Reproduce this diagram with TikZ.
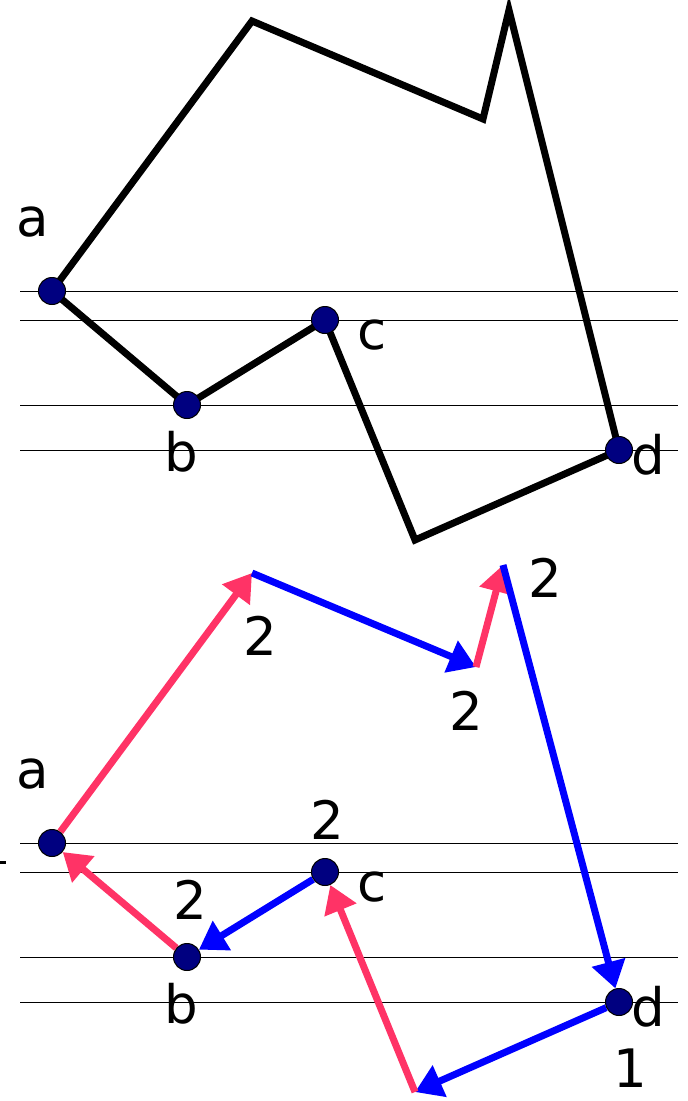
\documentclass[tikz,border=0pt]{standalone}
\usepackage{fontspec}
\setmainfont{DejaVu Sans}
\usetikzlibrary{arrows.meta,backgrounds}
\definecolor{pt-fill}{HTML}{000080}
\definecolor{up-red}{HTML}{FF3366}
\definecolor{down-blue}{HTML}{0000FF}

\begin{document}
\begin{tikzpicture}[x=1pt, y=-1pt,
    pt/.style={circle, draw=black, line width=1pt, fill=pt-fill, minimum size=27pt, inner sep=0pt},
    lbl/.style={font=\fontsize{53}{60}\selectfont, inner sep=0pt},
    guide/.style={black, line width=1pt},
    edge/.style={black, line width=7pt},
    up/.style={up-red, line width=7pt, -{Triangle[length=27pt, width=33pt]}},
    down/.style={down-blue, line width=7pt, -{Triangle[length=27pt, width=33pt]}}]
    \useasboundingbox (0,0) rectangle (688,1101);

    % --- Top panel: the polygon ---
    \begin{scope}
        \node[pt] (ta) at (52,291) {};
        \node[pt] (tb) at (187,405) {};
        \node[pt] (tc) at (325,320) {};
        \node[pt] (td) at (619,450) {};
        \coordinate (t1) at (252,21);
        \coordinate (t2) at (483,119);
        \coordinate (t3) at (509,10);
        \coordinate (t5) at (415,540);
        \node[lbl] (la) at (33,222) {a};
        \node[lbl] (lb) at (181,452) {b};
        \node[lbl] (lc) at (372,335) {c};
        \node[lbl] (ld) at (648,455) {d};
        \begin{pgfonlayer}{background}
            \foreach \n in {ta,tc,tb,td}
                \draw[guide] (20,0 |- \n) -- (678,0 |- \n);
            \draw[edge] (ta.center) -- (t1) -- (t2) -- (t3) -- (td.center) -- (t5)
                -- (tc.center) -- (tb.center) -- cycle;
        \end{pgfonlayer}
    \end{scope}

    % --- Bottom panel: edges marked up / down ---
    \begin{scope}[shift={(0,552)}]
        \node[pt] (ba) at (52,291) {};
        \node[pt] (bb) at (187,405) {};
        \node[pt] (bc) at (325,320) {};
        \node[pt] (bd) at (619,450) {};
        \coordinate (b1) at (252,21);
        \coordinate (b2) at (476,115);
        \coordinate (b3) at (503,13);
        \coordinate (b5) at (415,540);
        \node[lbl] (ma) at (33,222) {a};
        \node[lbl] (mb) at (181,452) {b};
        \node[lbl] (mc) at (372,335) {c};
        \node[lbl] (md) at (648,455) {d};
        \node[lbl] (n1) at (260,84) {2};
        \node[lbl] (n2) at (466,159) {2};
        \node[lbl] (n3) at (545,26) {2};
        \node[lbl] (n4) at (327,268) {2};
        \node[lbl] (n5) at (190,348) {2};
        \node[lbl] (n6) at (630,516) {1};
        \begin{pgfonlayer}{background}
            \foreach \n in {ba,bc,bb,bd}
                \draw[guide] (20,0 |- \n) -- (678,0 |- \n);
            \draw[line width=3pt] (0,310) -- (6,310);
            \draw[up] (ba) -- (b1);
            \draw[down] (b1) -- (b2);
            \draw[up] (b2) -- (b3);
            \draw[down] (b3) -- (bd);
            \draw[down] (bd) -- (b5);
            \draw[up] (b5) -- (bc);
            \draw[down] (bc) -- (bb);
            \draw[up] (bb) -- (ba);
        \end{pgfonlayer}
    \end{scope}
\end{tikzpicture}
\end{document}
